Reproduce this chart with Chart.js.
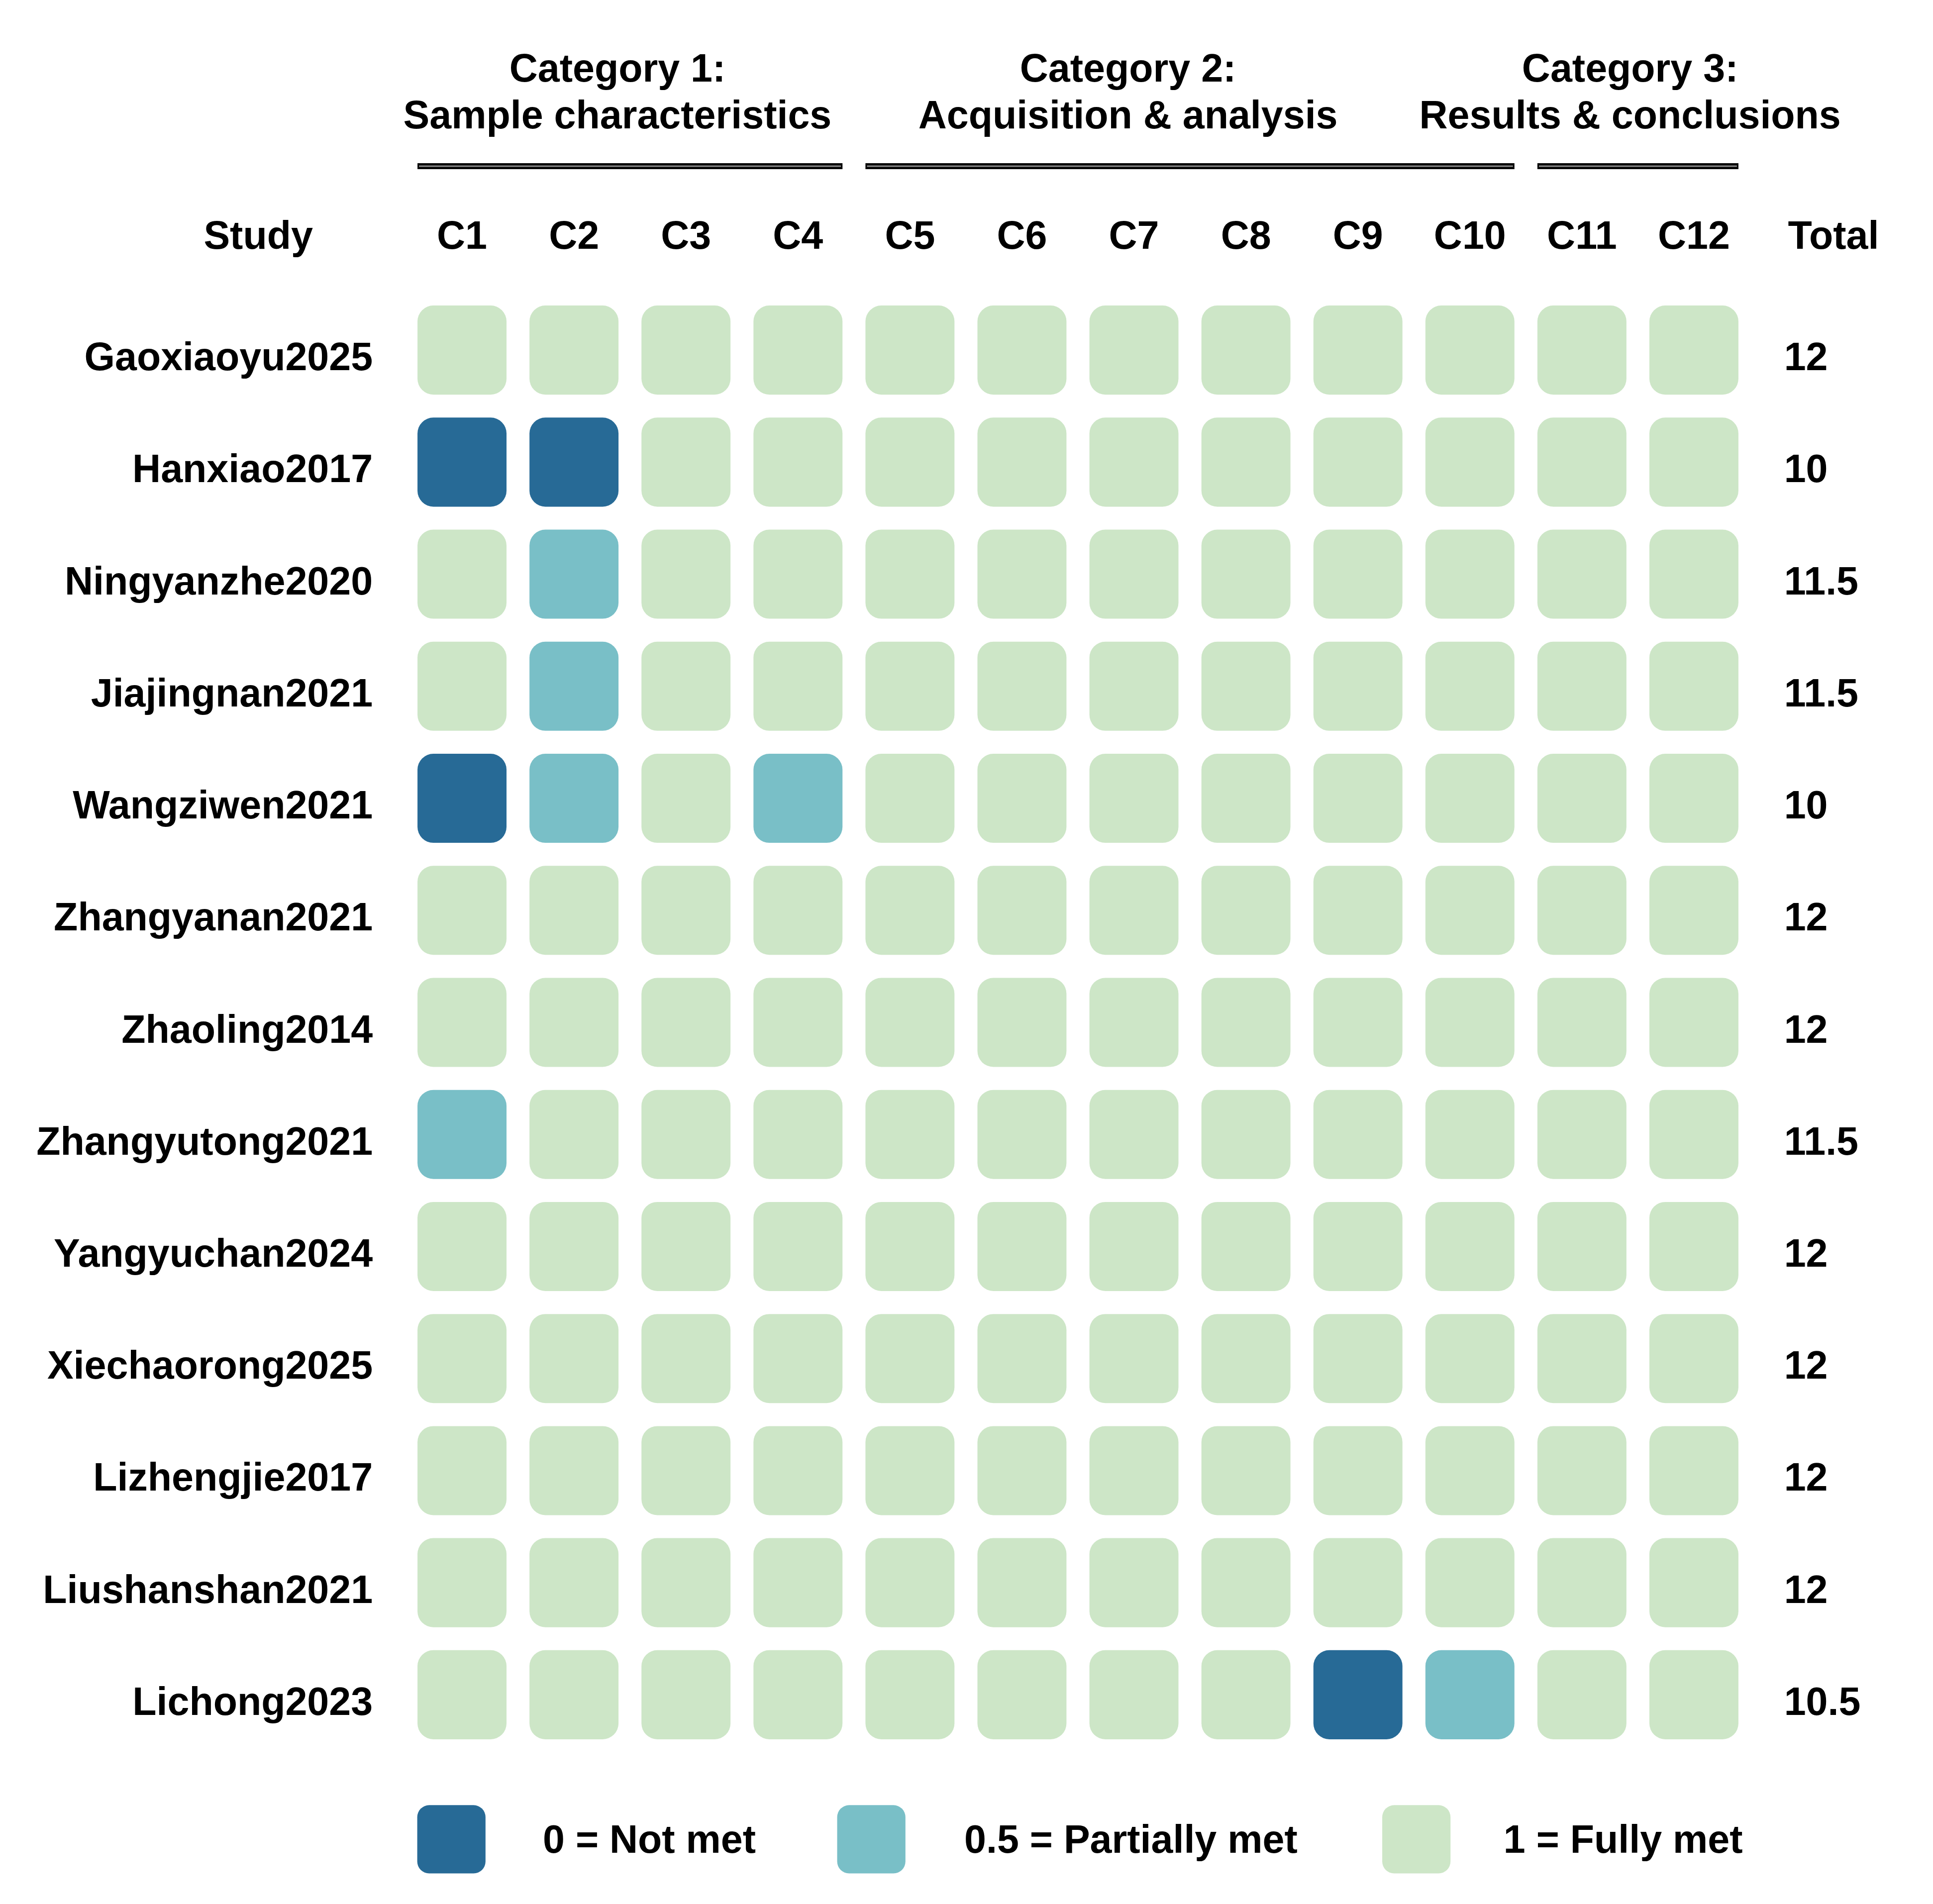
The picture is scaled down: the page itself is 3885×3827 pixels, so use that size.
<!DOCTYPE html>
<html>
<head>
<meta charset="utf-8">
<script src="https://cdn.jsdelivr.net/npm/chart.js@4"></script>
<style>
  html, body { margin: 0; padding: 0; background: #fff; }
  #wrap { width: 3885px; height: 3827px; position: relative; }
</style>
</head>
<body>
<div id="wrap"><canvas id="quality-chart"></canvas></div>
<script>
const criteria = ['C1', 'C2', 'C3', 'C4', 'C5', 'C6', 'C7', 'C8', 'C9', 'C10', 'C11', 'C12'];

const studies = [
  'Gaoxiaoyu2025', 'Hanxiao2017', 'Ningyanzhe2020', 'Jiajingnan2021', 'Wangziwen2021',
  'Zhangyanan2021', 'Zhaoling2014', 'Zhangyutong2021', 'Yangyuchan2024', 'Xiechaorong2025',
  'Lizhengjie2017', 'Liushanshan2021', 'Lichong2023',
];

// one row per study, C1..C12
const scores = [
  [1, 1, 1, 1, 1, 1, 1, 1, 1, 1, 1, 1],
  [0, 0, 1, 1, 1, 1, 1, 1, 1, 1, 1, 1],
  [1, 0.5, 1, 1, 1, 1, 1, 1, 1, 1, 1, 1],
  [1, 0.5, 1, 1, 1, 1, 1, 1, 1, 1, 1, 1],
  [0, 0.5, 1, 0.5, 1, 1, 1, 1, 1, 1, 1, 1],
  [1, 1, 1, 1, 1, 1, 1, 1, 1, 1, 1, 1],
  [1, 1, 1, 1, 1, 1, 1, 1, 1, 1, 1, 1],
  [0.5, 1, 1, 1, 1, 1, 1, 1, 1, 1, 1, 1],
  [1, 1, 1, 1, 1, 1, 1, 1, 1, 1, 1, 1],
  [1, 1, 1, 1, 1, 1, 1, 1, 1, 1, 1, 1],
  [1, 1, 1, 1, 1, 1, 1, 1, 1, 1, 1, 1],
  [1, 1, 1, 1, 1, 1, 1, 1, 1, 1, 1, 1],
  [1, 1, 1, 1, 1, 1, 1, 1, 0, 0.5, 1, 1],
];

const totals = ['12', '10', '11.5', '11.5', '10', '12', '12', '11.5', '12', '12', '12', '12', '10.5'];

const categoryTitles = ['Category 1:', 'Category 2:', 'Category 3:'];
const categorySubtitles = ['Sample characteristics', 'Acquisition & analysis', 'Results & conclusions'];
const categoryFirst = [0, 4, 10];
const categoryLast = [3, 9, 11];

const scoreLevels = [0, 0.5, 1];
const scoreLabels = ['0 = Not met', '0.5 = Partially met', '1 = Fully met'];

const palette = {
  0: '#276a96',
  0.5: '#79bfc7',
  1: '#cde6c7',
};

const FONT = 'bold 79px "Liberation Sans", Arial, Helvetica, sans-serif';
const CELL_HALF = 0.3975;

const textLayer = {
  id: 'textLayer',
  afterDraw(chart) {
    const { ctx, scales: { x, y } } = chart;
    const half = (x.getPixelForValue(1) - x.getPixelForValue(0)) * CELL_HALF;
    ctx.save();
    ctx.fillStyle = '#000';
    ctx.font = FONT;
    ctx.textBaseline = 'alphabetic';

    // header row
    const headY = y.getPixelForValue(-0.905);
    ctx.textAlign = 'center';
    ctx.fillText('Study', x.getPixelForValue(-1.819), headY);
    criteria.forEach((c, i) => ctx.fillText(c, x.getPixelForValue(i), headY));
    ctx.textAlign = 'left';
    ctx.fillText('Total', x.getPixelForValue(11.84), headY);

    // study names + totals
    studies.forEach((s, i) => {
      const py = y.getPixelForValue(i + 0.18);
      ctx.textAlign = 'right';
      ctx.fillText(s, x.getPixelForValue(-0.797), py);
      ctx.textAlign = 'left';
      ctx.fillText(totals[i], x.getPixelForValue(11.805), py);
    });

    // category titles and brackets
    const titleCentres = [1.388, 5.947, 10.43];
    ctx.textAlign = 'center';
    categoryTitles.forEach((t, k) => {
      const cx = x.getPixelForValue(titleCentres[k]);
      ctx.fillText(t, cx, y.getPixelForValue(-2.397));
      ctx.fillText(categorySubtitles[k], cx, y.getPixelForValue(-1.977));
      const x0 = x.getPixelForValue(categoryFirst[k]) - half;
      const x1 = x.getPixelForValue(categoryLast[k]) + half;
      const by = y.getPixelForValue(-1.641);
      ctx.fillStyle = '#000';
      ctx.fillRect(x0, by - 6, x1 - x0, 12);
      ctx.fillStyle = '#8a8a8a';
      ctx.fillRect(x0 + 3, by - 1.5, x1 - x0 - 6, 3);
      ctx.fillStyle = '#000';
    });

    // legend
    const legY = y.getPixelForValue(13.29);
    const legHalf = (y.getPixelForValue(1) - y.getPixelForValue(0)) * 0.3046;
    const boxLeft = [-0.3996, 3.35, 8.217];
    const textLeft = [0.722, 4.485, 9.30];
    scoreLevels.forEach((lv, k) => {
      const bx = x.getPixelForValue(boxLeft[k]);
      ctx.fillStyle = palette[lv];
      ctx.beginPath();
      ctx.roundRect(bx, legY - legHalf, legHalf * 2, legHalf * 2, 24);
      ctx.fill();
      ctx.fillStyle = '#000';
      ctx.textAlign = 'left';
      ctx.fillText(scoreLabels[k], x.getPixelForValue(textLeft[k]), y.getPixelForValue(13.408));
    });
    ctx.restore();
  },
};

const ctx = document.getElementById('quality-chart');

new Chart(ctx, {
  type: 'bar',
  data: {
    labels: criteria,
    datasets: studies.map((s, i) => ({
      label: s,
      data: scores[i].map(() => [i - CELL_HALF, i + CELL_HALF]),
      backgroundColor: scores[i].map((v) => palette[v]),
      borderRadius: 32,
      borderSkipped: false,
      borderWidth: 0,
      grouped: false,
      barPercentage: CELL_HALF * 2,
      categoryPercentage: 1,
    })),
  },
  options: {
    responsive: true,
    maintainAspectRatio: false,
    devicePixelRatio: 1,
    animation: false,
    layout: { padding: { left: 816, right: 368, top: 591, bottom: 308 } },
    plugins: { legend: { display: false }, tooltip: { enabled: false } },
    scales: {
      x: { type: 'category', offset: true, display: false },
      y: { type: 'linear', min: -0.5, max: 12.5, reverse: true, display: false },
    },
  },
  plugins: [textLayer],
});
</script>
</body>
</html>
